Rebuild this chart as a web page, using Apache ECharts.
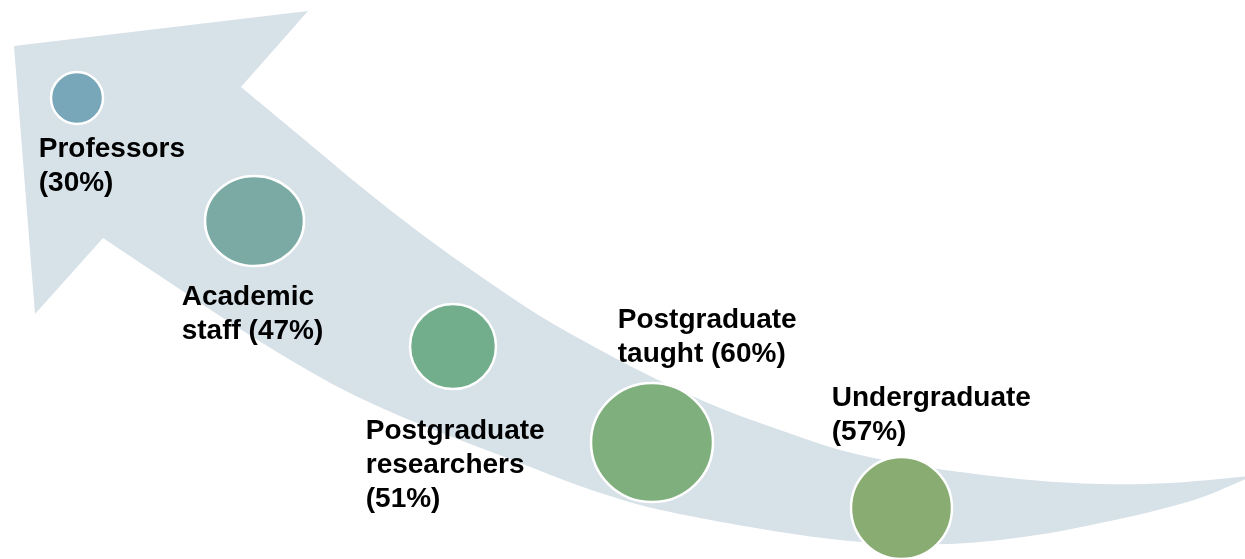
<!DOCTYPE html>
<html><head><meta charset="utf-8">
<script src="https://cdn.jsdelivr.net/npm/echarts@6/dist/echarts.min.js"></script>
<style>html,body{margin:0;padding:0;background:#ffffff}#c{width:1245px;height:559px}</style>
</head><body><div id="c"></div>
<script>
// ---- data ----
const categories = ['Professors', 'Academic staff', 'Postgraduate researchers', 'Postgraduate taught', 'Undergraduate'];
const values = [30, 47, 51, 60, 57];

// ---- layout (infographic placement, not data) ----
const bubbleCenters = [[77, 98], [254.5, 221], [453, 346.5], [652, 442.5], [901.5, 508]];
const bubbleSizes = [[52, 52], [99, 90], [86, 85], [122, 119], [101, 102]];
const labelCapTopLeft = [[40, 140], [183, 287.5], [367, 421.5], [619, 311], [833, 389]];
const labelValueSep = ['\n', ' ', '\n', ' ', '\n'];
const bubbleColors = ['#77A7B9', '#7BAAA4', '#73AE8C', '#7FAF7C', '#88AC72'];

// arrow outline (decorative background)
const arrowHead = [[103, 238], [35, 314], [14, 46], [308, 11], [241, 87]];
const arrowUpperEdge = [[241, 87], [300, 136], [360, 186], [420, 233], [480, 276], [540, 316], [600, 350], [660, 381], [720, 408], [780, 430], [840, 450], [900, 463], [960, 472], [1030, 480], [1100, 484], [1170, 483], [1250, 476]];
const arrowLowerEdge = [[1250, 477], [1200, 498], [1150, 512], [1100, 523], [1050, 533], [1000, 540], [950, 544], [900, 544], [850, 541], [800, 535], [750, 527], [700, 518], [640, 505], [580, 486], [520, 463], [460, 440], [400, 416], [340, 388], [277, 352], [220, 316], [160, 276], [103, 238]];

const chart = echarts.init(document.getElementById('c'), null, {renderer: 'canvas'});

function crSegments(pts) {
  let d = '';
  for (let i = 0; i < pts.length - 1; i++) {
    const p0 = pts[i - 1] || pts[i], p1 = pts[i], p2 = pts[i + 1], p3 = pts[i + 2] || pts[i + 1];
    const c1 = [p1[0] + (p2[0] - p0[0]) / 6, p1[1] + (p2[1] - p0[1]) / 6];
    const c2 = [p2[0] - (p3[0] - p1[0]) / 6, p2[1] - (p3[1] - p1[1]) / 6];
    d += ' C' + c1[0] + ' ' + c1[1] + ' ' + c2[0] + ' ' + c2[1] + ' ' + p2[0] + ' ' + p2[1];
  }
  return d;
}

const FONT = 28, LH = 34, CAP_OFFSET = 6;

const bubbleData = categories.map((name, i) => {
  const [cx, cy] = bubbleCenters[i];
  const [w, h] = bubbleSizes[i];
  const [lx, ly] = labelCapTopLeft[i];
  return {
    name: name,
    value: [cx, cy, values[i]],
    symbolSize: [w, h],
    itemStyle: {color: bubbleColors[i]},
    label: {position: [lx - (cx - w / 2), ly - CAP_OFFSET - (cy - h / 2)]}
  };
});

function wrapName(name, i) {
  const idx = name.indexOf(' ');
  const n = idx > 0 ? name.slice(0, idx) + '\n' + name.slice(idx + 1) : name;
  return n + labelValueSep[i] + '(' + values[i] + '%)';
}

chart.setOption({
  animation: false,
  backgroundColor: '#ffffff',
  grid: {left: 0, right: 0, top: 0, bottom: 0},
  xAxis: {type: 'value', min: 0, max: 1245, show: false},
  yAxis: {type: 'value', min: 0, max: 559, inverse: true, show: false},
  series: [
    {
      type: 'custom',
      silent: true,
      clip: false,
      data: [[0, 0]],
      z: 1,
      renderItem: function (params, api) {
        const c = p => api.coord(p);
        const up = arrowUpperEdge.map(c), lo = arrowLowerEdge.map(c), hd = arrowHead.map(c);
        let d = 'M' + up[0][0] + ' ' + up[0][1] + crSegments(up);
        d += ' L' + lo[0][0] + ' ' + lo[0][1] + crSegments(lo);
        for (let k = 1; k < hd.length; k++) d += ' L' + hd[k][0] + ' ' + hd[k][1];
        d += ' Z';
        return {type: 'path', shape: {pathData: d}, style: {fill: '#D6E1E8', stroke: null}};
      }
    },
    {
      type: 'scatter',
      z: 2,
      clip: false,
      data: bubbleData,
      itemStyle: {borderColor: '#ffffff', borderWidth: 2.5, opacity: 1},
      emphasis: {disabled: true},
      label: {
        show: true,
        formatter: p => wrapName(p.name, p.dataIndex),
        fontFamily: '"Liberation Sans", Arial, sans-serif',
        fontWeight: 'bold',
        fontSize: FONT,
        lineHeight: LH,
        color: '#000000',
        align: 'left',
        verticalAlign: 'top'
      }
    }
  ]
});
</script>
</body></html>
